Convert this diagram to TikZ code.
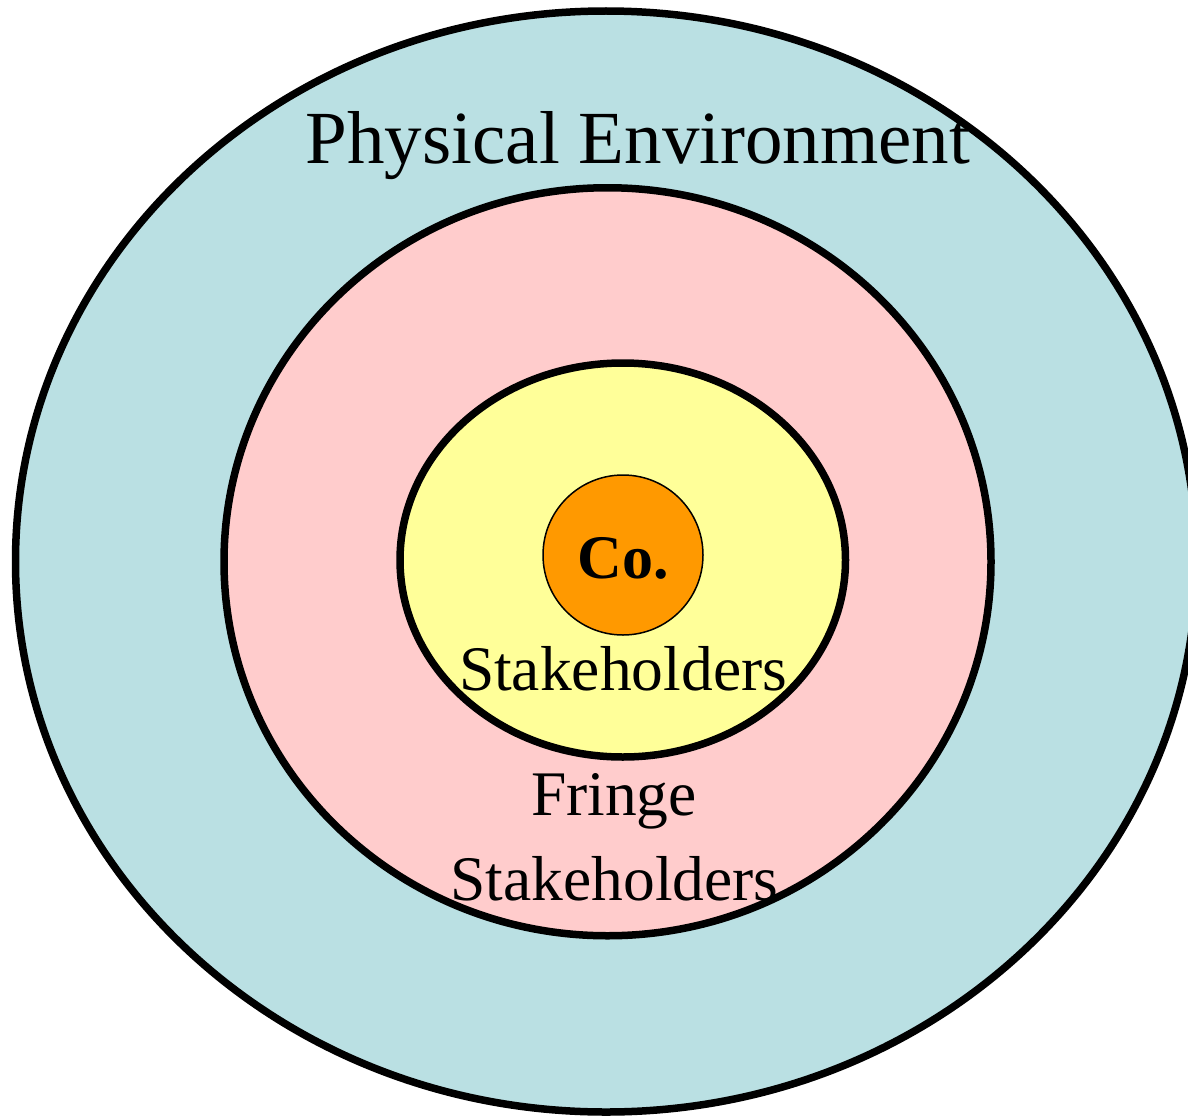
\documentclass[tikz,border=0pt]{standalone}
\usepackage{fontspec}
\setmainfont{Liberation Serif}
\usepackage{tikz}
\definecolor{envblue}{HTML}{BAE0E3}
\definecolor{fringepink}{HTML}{FFCCCC}
\definecolor{stakeyellow}{HTML}{FFFF99}
\definecolor{coorange}{HTML}{FF9900}
\newcommand{\ring}[5]{\draw[line width=7.5pt, fill=#5] ( #1 , #2 ) ellipse [x radius=#3pt, y radius=#4pt];}
\tikzset{
  bigtext/.style={anchor=base, inner sep=0pt, font=\fontsize{75}{80}\selectfont},
  ringtext/.style={anchor=base, inner sep=0pt, font=\fontsize{63.5}{68}\selectfont},
}

\begin{document}
\begin{tikzpicture}[x=1pt, y=-1pt]
        \useasboundingbox (0,0) rectangle (1188,1116);
        % rings
        \ring{606}{561.5}{590.5}{550.5}{envblue}
        \ring{607.5}{561.75}{383.5}{374}{fringepink}
        \ring{622.75}{560}{222.75}{197}{stakeyellow}
        % company
        \draw[line width=1.5pt, fill=coorange] (623,555) circle [radius=80pt];
        \node[ringtext, font=\fontsize{62}{68}\selectfont\bfseries] (company) at (623,578) {Co.};
        % labels
        \node[bigtext] (physenv) at (638,163) {Physical Environment};
        \node[ringtext] (stake) at (623,690) {Stakeholders};
        \node[ringtext] (fringe) at (614,815) {Fringe};
        \node[ringtext] (fringestake) at (614.5,900) {Stakeholders};
\end{tikzpicture}
\end{document}
